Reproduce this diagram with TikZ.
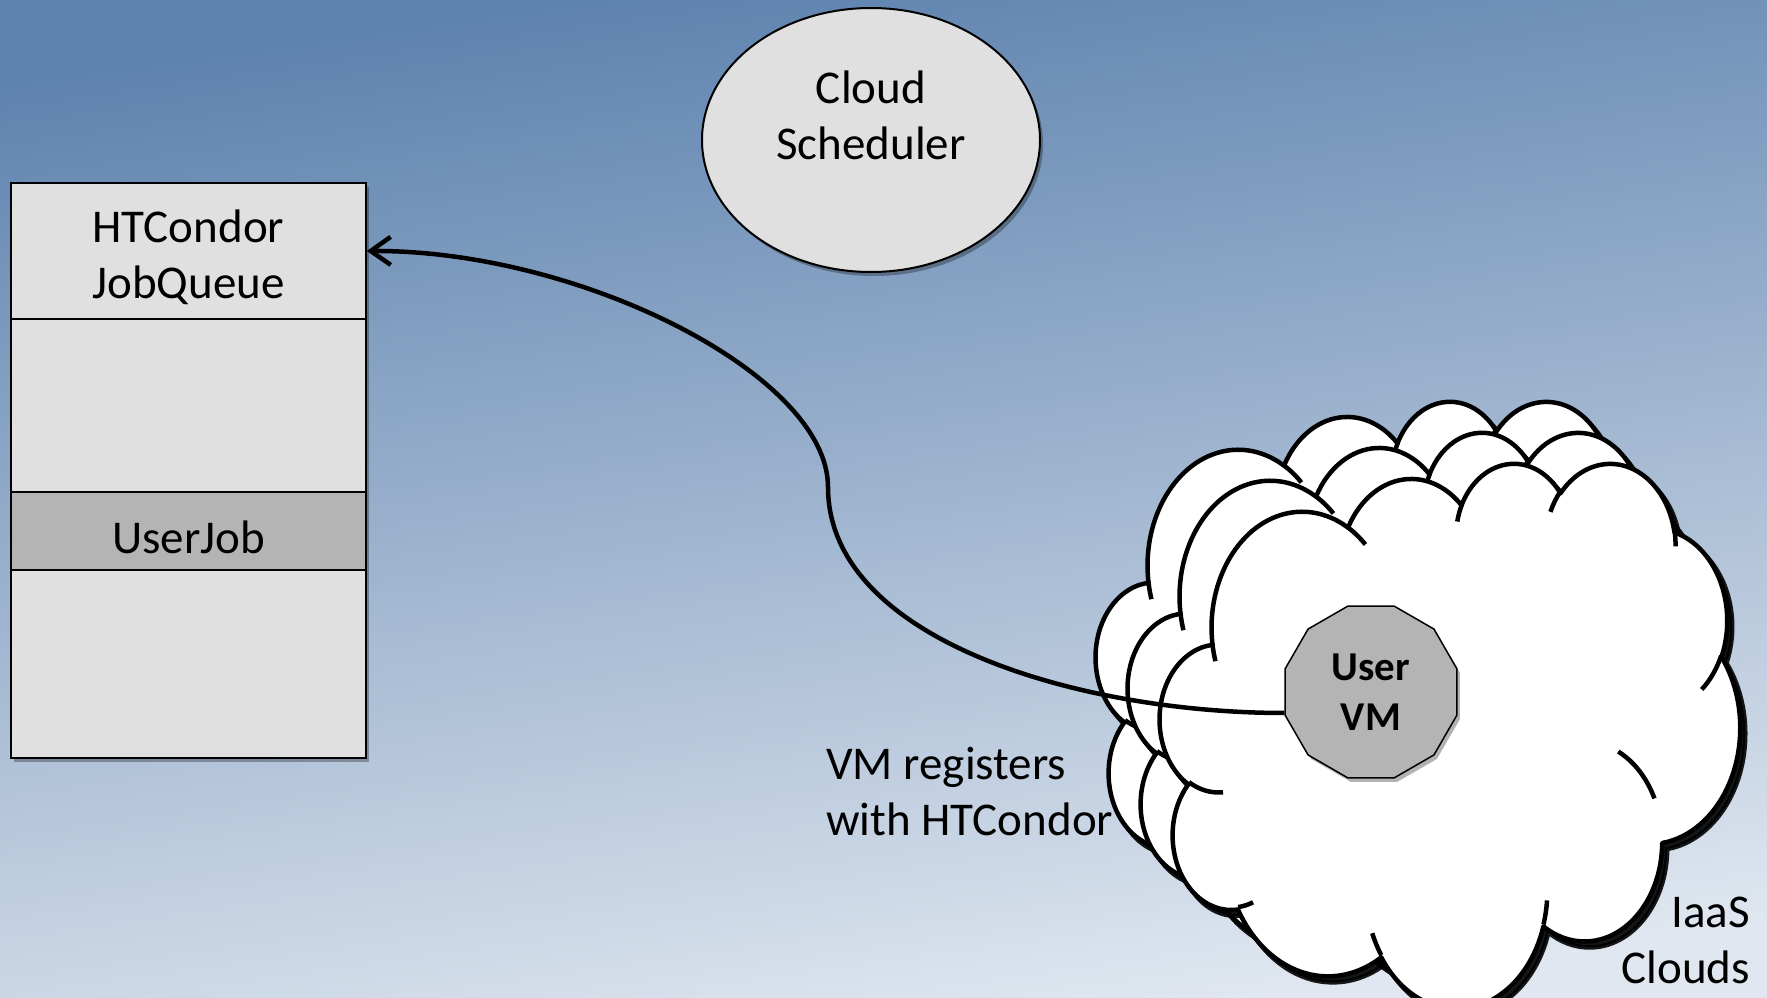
\documentclass[tikz,border=0pt]{standalone}
\usepackage{fontspec}
\setmainfont{Carlito}
\usetikzlibrary{shapes.geometric,arrows.meta,shadows,calc}

\definecolor{boxgray}{HTML}{E0E0E0}
\definecolor{jobgray}{HTML}{B4B4B4}
\definecolor{bgtop}{HTML}{5D82AE}
\definecolor{bgbot}{HTML}{E0E7F0}

% DrawingML-style elliptical arc: wR hR stAng swAng (visual angles, degrees)
\newcommand\ooarc[4]{\pgfextra{%
  \pgfmathsetmacro\ooa{atan2((#1)*sin(#3),(#2)*cos(#3))}%
  \pgfmathsetmacro\oob{atan2((#1)*sin((#3)+(#4)),(#2)*cos((#3)+(#4)))}%
  \pgfmathsetmacro\ood{(\oob)-(\ooa)}%
  \pgfmathsetmacro\ood{(\ood)+360*round(((#4)-(\ood))/360)}%
  \global\let\oots\ooa\global\let\oodt\ood}%
  arc[start angle=\oots, delta angle=\oodt, x radius=#1pt, y radius=#2pt]}

\def\cloudmain{(39.00,143.70)
 \ooarc{67.53}{91.90}{-190.4875}{123.7805}
 \ooarc{53.33}{72.67}{-144.1024}{89.9452}
 \ooarc{43.65}{59.45}{-145.8079}{99.7230}
 \ooarc{48.57}{65.95}{-130.9861}{117.2417}
 \ooarc{53.33}{72.73}{-78.7089}{109.0269}
 \ooarc{67.75}{92.20}{-46.2673}{130.2690}
 \ooarc{57.85}{78.67}{0.6250}{114.0333}
 \ooarc{67.52}{92.15}{22.4516}{115.1726}
 \ooarc{77.20}{105.43}{66.2426}{75.7110}
 \ooarc{43.60}{59.18}{-274.9421}{146.7356}
 \ooarc{43.45}{59.45}{-246.8285}{152.5189}
 -- cycle}

\def\cloudinner{
 (46.93,261.77) \ooarc{43.45}{59.45}{86.7420}{26.4295}
 (69.28,348.99) \ooarc{43.60}{59.18}{73.6105}{11.4475}
 (164.78,390.90) \ooarc{67.52}{92.15}{137.6242}{14.0811}
 (288.27,347.51) \ooarc{67.52}{92.15}{6.4533}{15.9984}
 (341.29,229.54) \ooarc{57.85}{78.67}{-70.2924}{37.5699}
 (417.98,153.54) \ooarc{53.33}{72.73}{30.3180}{27.7515}
 (383.24,54.26) \ooarc{48.57}{65.95}{-13.7443}{14.8589}
 (290.78,39.52) \ooarc{48.57}{65.95}{-149.1815}{18.1954}
 (221.41,47.20) \ooarc{43.65}{59.45}{-163.4943}{17.6872}
 (140.00,51.92) \ooarc{67.53}{91.90}{-66.7070}{12.3194}
 (41.27,157.89) \ooarc{67.53}{91.90}{157.6544}{11.8582}
}

\newcommand\pcloud[4]{%
 \begin{scope}[shift={(#1+5,#2+6)}, x=1pt, y=1pt, xscale=#3/432, yscale=-#4/432]
   \filldraw[black, line width=4.5pt, opacity=.9] \cloudmain;
 \end{scope}
 \begin{scope}[shift={(#1,#2)}, x=1pt, y=1pt, xscale=#3/432, yscale=-#4/432]
   \filldraw[cloudline, fill=white] \cloudmain;
   \draw[cloudline] \cloudinner;
 \end{scope}}

\tikzset{
  cloudline/.style={draw=black, line width=4.5pt, line join=round},
  softshadow/.style={drop shadow={shadow xshift=3pt, shadow yshift=-4pt, fill=black, opacity=0.3}},
  qcell/.style={draw=black, line width=1.5pt, fill=boxgray, minimum width=355pt, inner sep=0pt},
  lbl/.style={inner sep=0pt, text=black},
  link/.style={draw=black, line width=4.5pt, -{Straight Barb[length=20pt,width=28pt]}}
}

\begin{document}
\begin{tikzpicture}[x=1pt, y=-1pt, font=\fontsize{47}{56}\selectfont]
\useasboundingbox (0,0) rectangle (1767,998);
\shade[top color=bgtop, bottom color=bgbot, shading angle=8] (0,0) rectangle (1767,998);

% job queue
\node[qcell, softshadow, minimum height=575pt] (qback) at (188.5,470.5) {};
\node[qcell, minimum height=136pt] (qhead) at (188.5,251) {};
\node[qcell, minimum height=173pt] (qmid) at (188.5,405.5) {};
\node[qcell, fill=jobgray, minimum height=78pt] (qjob) at (188.5,531) {};
\node[qcell, minimum height=188pt] (qlow) at (188.5,664) {};
\node[draw=black, line width=2.5pt, minimum width=355pt, minimum height=575pt, inner sep=0pt] (qframe) at (188.5,470.5) {};
\node[lbl, align=center] (qheadtxt) at (188.5,257) {HTCondor\\JobQueue};
\node[lbl] (qjobtxt) at (188.5,537) {UserJob};

% cloud scheduler
\node[ellipse, draw=black, line width=2pt, fill=boxgray, softshadow, minimum width=338pt, minimum height=264pt] (sched) at (871,140) {};
\node[lbl, align=center] (schedtxt) at (871,115) {Cloud\\Scheduler};

% IaaS clouds
\pcloud{1096}{400}{580}{545}
\pcloud{1128}{431}{580}{545}
\pcloud{1160}{462}{580}{545}

% user VM
\node[regular polygon, regular polygon sides=12, minimum size=178pt, inner sep=0pt, fill=jobgray, draw=black, line width=1.5pt, softshadow, align=center, font=\fontsize{41}{50}\selectfont\bfseries] (vm) at (1371,692) {User\\VM};

\coordinate (vmin) at ($(vm.west)+(0,21)$);
\coordinate (bend) at (828,487);
\draw[link] (vmin) .. controls (1080,713) and (828,640) .. (bend) .. controls (828,375) and (580,250) .. (qhead.east);

% labels
\node[lbl, align=left, anchor=west] (vmreg) at (826,791) {VM registers\\with HTCondor};
\node[lbl, align=right, anchor=east] (iaas) at (1750,940) {IaaS\\Clouds};
\end{tikzpicture}
\end{document}
